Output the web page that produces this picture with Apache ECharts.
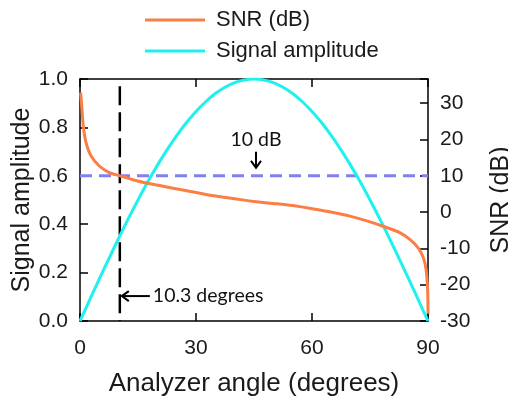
<!DOCTYPE html>
<html>
<head>
<meta charset="utf-8">
<script src="https://cdn.jsdelivr.net/npm/echarts@6/dist/echarts.min.js"></script>
<style>html,body{margin:0;padding:0;background:#fff;}#c{width:508px;height:401px;}</style>
</head>
<body>
<div id="c"></div>
<script>
// ---- data ----
const signalAngles = [0,2.5,5,7.5,10,12.5,15,17.5,20,22.5,25,27.5,30,32.5,35,37.5,40,42.5,45,47.5,50,52.5,55,57.5,60,62.5,65,67.5,70,72.5,75,77.5,80,82.5,85,87.5,90];
const signalAmp = [0,0.087,0.174,0.259,0.342,0.423,0.5,0.574,0.643,0.707,0.766,0.819,0.866,0.906,0.94,0.966,0.985,0.996,1,0.996,0.985,0.966,0.94,0.906,0.866,0.819,0.766,0.707,0.643,0.574,0.5,0.423,0.342,0.259,0.174,0.087,0];
const snrAngles = [0.15,0.52,0.85,1.55,2.84,4.99,7.58,10.3,13.5,17.2,21.5,25.9,30,34.5,40,45,50,55,61.2,65.5,69.8,74.4,78.9,82.8,85.3,87.5,88.8,89.5,89.9,90];
const snrDb = [32.9,28.3,23.7,19.2,15.5,12.7,10.9,10.0,9.0,8.0,7.1,6.2,5.4,4.5,3.7,2.9,2.4,1.8,0.7,-0.1,-1.1,-2.5,-4.1,-5.7,-7.5,-9.9,-12.6,-15.8,-21.3,-28];
const thresholdDb = 10;        // 10 dB threshold line
const cutoffAngle = 10.3;      // 10.3 degrees
const cutoffTop = 0.97;        // top of the vertical dashed line (left axis units)
const xTicks = [0, 30, 60, 90];
const ampTicks = [0, 0.2, 0.4, 0.6, 0.8, 1.0];
const snrTicks = [-30, -20, -10, 0, 10, 20, 30];
const snrMin = -30, snrMax = 36.667;

const FONT = '"Liberation Sans", Arial, sans-serif';
const ANNOT = 'Lato, "Open Sans", sans-serif';

const chart = echarts.init(document.getElementById('c'), null, {renderer: 'canvas'});

const axisLine = {show: true, onZero: false, lineStyle: {color: '#000', width: 1.5}};
const tick = {show: true, inside: true, length: 8, lineStyle: {color: '#000', width: 1.5}};

const option = {
  animation: false,
  backgroundColor: '#fff',
  grid: {left: 80, right: 80, top: 79, height: 242, containLabel: false, outerBoundsMode: 'none'},
  legend: {
    orient: 'vertical', left: 140, top: 4,
    icon: 'rect', itemWidth: 60, itemHeight: 3, itemGap: 9,
    data: ['SNR (dB)', 'Signal amplitude'],
    textStyle: {fontFamily: FONT, fontSize: 22, color: '#1a1a1a', padding: [0, 0, 0, 6], lineHeight: 22}
  },
  xAxis: [{
    type: 'value', min: xTicks[0], max: xTicks[xTicks.length - 1], interval: 30,
    name: 'Analyzer angle (degrees)', nameLocation: 'middle', nameGap: 50, nameMoveOverlap: false,
    nameTextStyle: {fontFamily: FONT, fontSize: 26, color: '#1a1a1a'},
    axisLine: axisLine, axisTick: tick,
    axisLabel: {fontFamily: FONT, fontSize: 21, color: '#1a1a1a', margin: 17},
    splitLine: {show: false}
  }, {
    type: 'value', position: 'top', min: xTicks[0], max: xTicks[xTicks.length - 1], interval: 30,
    axisLine: axisLine, axisTick: tick, axisLabel: {show: false}, splitLine: {show: false}
  }],
  yAxis: [{
    type: 'value', min: ampTicks[0], max: ampTicks[ampTicks.length - 1], interval: 0.2,
    name: 'Signal amplitude', nameLocation: 'middle', nameGap: 45, nameMoveOverlap: false,
    nameTextStyle: {fontFamily: FONT, fontSize: 25, color: '#1a1a1a'},
    axisLine: axisLine, axisTick: tick,
    axisLabel: {fontFamily: FONT, fontSize: 21, color: '#1a1a1a', margin: 12, formatter: v => v.toFixed(1)},
    splitLine: {show: false}
  }, {
    type: 'value', position: 'right', min: snrMin, max: snrMax, interval: 10,
    name: 'SNR (dB)', nameLocation: 'middle', nameGap: 61,
    nameTextStyle: {fontFamily: FONT, fontSize: 25, color: '#1a1a1a'},
    axisLine: axisLine, axisTick: tick,
    axisLabel: {fontFamily: FONT, fontSize: 21, color: '#1a1a1a', margin: 12,
      formatter: v => (snrTicks.indexOf(Math.round(v)) >= 0 && Math.abs(v - Math.round(v)) < 1e-6) ? String(Math.round(v)) : ''},
    splitLine: {show: false}
  }],
  series: [
    {
      name: 'threshold', type: 'line', yAxisIndex: 1, symbol: 'none', silent: true,
      data: [[xTicks[0], thresholdDb], [xTicks[xTicks.length - 1], thresholdDb]],
      lineStyle: {color: '#8080f4', width: 3, type: [12, 7]}, z: 1
    },
    {
      name: 'cutoff', type: 'line', yAxisIndex: 0, symbol: 'none', silent: true,
      data: [[cutoffAngle, cutoffTop], [cutoffAngle, 0]],
      lineStyle: {color: '#000', width: 2.5, type: [19, 7]}, z: 2
    },
    {
      name: 'Signal amplitude', type: 'line', yAxisIndex: 0, symbol: 'none', smooth: 0.4,
      data: signalAngles.map((a, i) => [a, signalAmp[i]]),
      lineStyle: {color: '#1ff0f0', width: 3}, itemStyle: {color: '#1ff0f0'}, z: 3
    },
    {
      name: 'SNR (dB)', type: 'line', yAxisIndex: 1, symbol: 'none', smooth: 0.35,
      data: snrAngles.map((a, i) => [a, snrDb[i]]),
      lineStyle: {color: '#fb7f45', width: 3}, itemStyle: {color: '#fb7f45'}, z: 4
    }
  ]
};
chart.setOption(option);

// ---- annotations positioned from data coordinates ----
const pDb = chart.convertToPixel({xAxisIndex: 0, yAxisIndex: 1}, [45, thresholdDb]);
const pCut = chart.convertToPixel({xAxisIndex: 0, yAxisIndex: 0}, [cutoffAngle, 0.103]);
const ax = pDb[0] + 2, tipY = pDb[1] - 8, tailY = pDb[1] - 24;
const cx = pCut[0] + 2, cy = pCut[1];
chart.setOption({
  graphic: [
    {type: 'text', x: ax, y: pDb[1] - 36, style: {text: '10 dB', fontFamily: ANNOT, fontSize: 19.5, fill: '#111', align: 'center', verticalAlign: 'middle'}},
    {type: 'line', shape: {x1: ax, y1: tailY, x2: ax, y2: tipY}, style: {stroke: '#000', lineWidth: 2}},
    {type: 'polyline', shape: {points: [[ax - 5, tipY - 7], [ax, tipY], [ax + 5, tipY - 7]]}, style: {stroke: '#000', lineWidth: 2, fill: null}},
    {type: 'line', shape: {x1: cx + 28, y1: cy, x2: cx, y2: cy}, style: {stroke: '#000', lineWidth: 2}},
    {type: 'polyline', shape: {points: [[cx + 7, cy - 5], [cx, cy], [cx + 7, cy + 5]]}, style: {stroke: '#000', lineWidth: 2, fill: null}},
    {type: 'text', x: cx + 31, y: cy, style: {text: '10.3 degrees', fontFamily: ANNOT, fontSize: 19.5, fill: '#111', align: 'left', verticalAlign: 'middle'}}
  ]
});
</script>
</body>
</html>
